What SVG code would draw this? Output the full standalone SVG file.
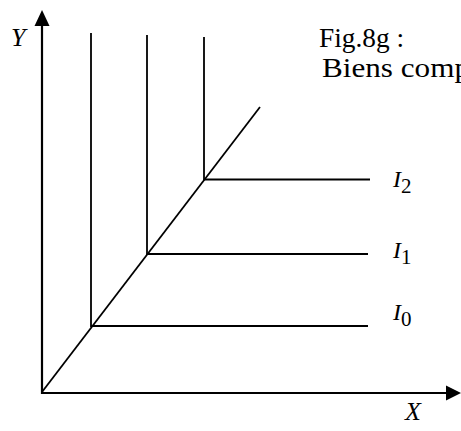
<svg xmlns="http://www.w3.org/2000/svg" width="461" height="431" viewBox="0 0 461 431">
<style>
.ax{stroke:#000;stroke-width:2.2;fill:none}
.ln{stroke:#000;stroke-width:1.8;fill:none}
.var{font-family:"Liberation Serif",serif;font-style:italic;fill:#000}
.sub{font-family:"Liberation Serif",serif;font-style:normal;fill:#000}
.cap{font-family:"Liberation Serif",serif;font-size:28px;fill:#000}
</style>
<rect width="461" height="431" fill="#fff"/>
<g id="connectors">
<line class="ax" x1="42" y1="394" x2="42" y2="24"/>
<polygon points="42,10 34.5,26 49.5,26" fill="#000"/>
<line class="ax" x1="41" y1="393" x2="448" y2="393"/>
<polygon points="461,393 446,385.5 446,400.5" fill="#000"/>
<line class="ln" x1="42" y1="392" x2="260" y2="107"/>
<polyline class="ln" points="91,33 91,326 368,326"/>
<polyline class="ln" points="147,35 147,254 368,254"/>
<polyline class="ln" points="204,37 204,179.5 370,179.5"/>
</g>
<g id="labels">
<text class="var" x="11" y="46" font-size="26">Y</text>
<text class="var" x="405" y="420" font-size="26">X</text>
<text class="var" x="393" y="187" font-size="24">I<tspan class="sub" dy="6" font-size="21">2</tspan></text>
<text class="var" x="393" y="258" font-size="24">I<tspan class="sub" dy="6" font-size="21">1</tspan></text>
<text class="var" x="393" y="320" font-size="24">I<tspan class="sub" dy="6" font-size="21">0</tspan></text>
<text class="cap" x="319" y="47" textLength="85" lengthAdjust="spacingAndGlyphs">Fig.8g :</text>
<text class="cap" x="322" y="77" textLength="148" lengthAdjust="spacingAndGlyphs">Biens comp</text>
</g>
</svg>
